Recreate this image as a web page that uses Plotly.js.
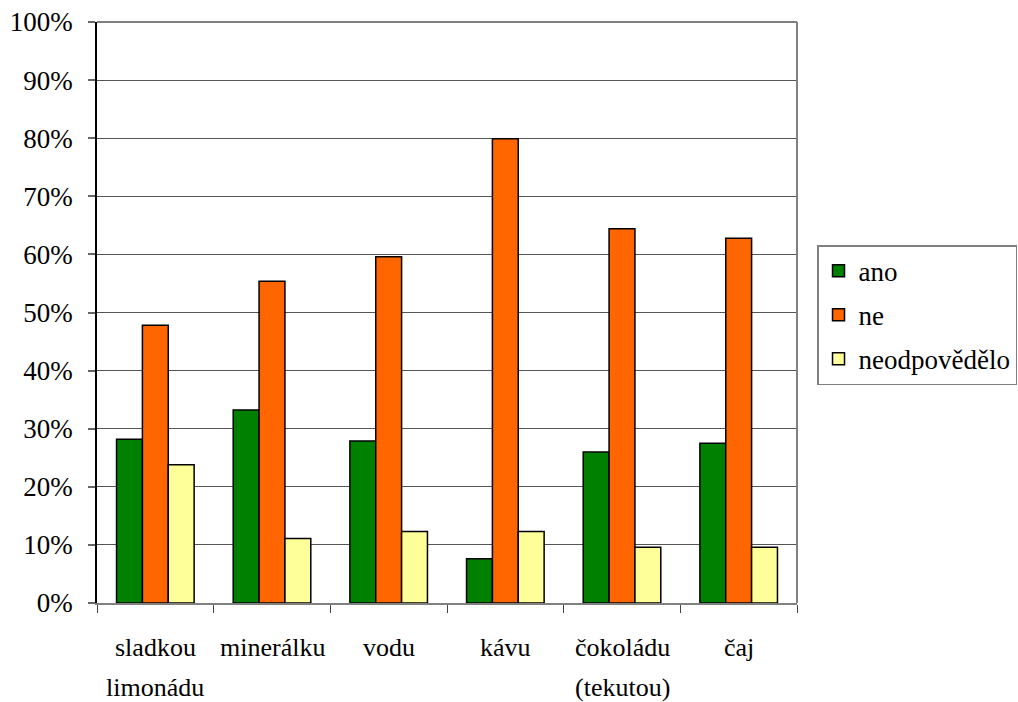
<!DOCTYPE html>
<html>
<head>
<meta charset="utf-8">
<script src="https://cdn.plot.ly/plotly-3.0.1.min.js"></script>
<style>
html,body{margin:0;padding:0;background:#fff;}
#chart{width:1018px;height:702px;}
#chart text{font-family:'Liberation Serif', serif !important;}
</style>
</head>
<body>
<div id="chart"></div>
<script>
const categories = ['sladkou limonádu', 'minerálku', 'vodu', 'kávu', 'čokoládu (tekutou)', 'čaj'];
const labelLine1 = ['sladkou', 'minerálku', 'vodu', 'kávu', 'čokoládu', 'čaj'];
const labelLine2 = ['limonádu', '', '', '', '(tekutou)', ''];
const seriesNames = ['ano', 'ne', 'neodpovědělo'];
const ano = [0.282, 0.332, 0.279, 0.076, 0.260, 0.275];
const ne = [0.478, 0.554, 0.596, 0.799, 0.644, 0.628];
const neodpovedelo = [0.238, 0.111, 0.123, 0.123, 0.096, 0.096];
const colors = ['#008000', '#FF6600', '#FFFF99'];
const values = [ano, ne, neodpovedelo];

const serifFamily = 'Liberation Serif, serif';

const traces = values.map((v, i) => ({
  type: 'bar',
  name: seriesNames[i],
  x: categories,
  y: v,
  legendgroup: 'g' + i,
  marker: {color: colors[i], line: {color: '#000', width: 1.5}},
  hoverinfo: 'x+y+name'
}));

const annotations = [];
categories.forEach((c, i) => {
  annotations.push({x: c, xref: 'x', y: -0.077, yref: 'paper', yanchor: 'middle', xanchor: 'center',
    text: labelLine1[i], showarrow: false, font: {family: serifFamily, size: 26, color: '#000'}});
  if (labelLine2[i]) {
    annotations.push({x: c, xref: 'x', y: -0.146, yref: 'paper', yanchor: 'middle', xanchor: 'center',
      text: labelLine2[i], showarrow: false, font: {family: serifFamily, size: 26, color: '#000'}});
  }
});

const layout = {
  width: 1018, height: 702,
  margin: {l: 97, r: 221, t: 22, b: 99, autoexpand: false},
  paper_bgcolor: '#fff', plot_bgcolor: '#fff',
  font: {family: serifFamily, size: 26, color: '#000'},
  barmode: 'group', bargap: 0.335, bargroupgap: 0,
  showlegend: true,
  legend: {x: 1.0286, xanchor: 'left', y: 0.616, yanchor: 'top',
    bordercolor: '#808080', borderwidth: 1.5, bgcolor: '#fff',
    font: {family: serifFamily, size: 27, color: '#000'}, tracegroupgap: 6, itemwidth: 30},
  xaxis: {type: 'category', showticklabels: false, showgrid: false, zeroline: false,
    showline: true, linecolor: '#808080', linewidth: 2,
    ticks: 'outside', tickson: 'boundaries', ticklen: 8, tickcolor: '#444', tickwidth: 1},
  yaxis: {range: [0, 1], dtick: 0.1, tickformat: '.0%', showgrid: true, gridcolor: '#555', gridwidth: 1,
    zeroline: false, showline: true, linecolor: '#000', linewidth: 1.5,
    ticks: 'outside', ticklen: 7, tickcolor: '#666', tickwidth: 1.5, ticklabelstandoff: 10,
    tickfont: {family: serifFamily, size: 27, color: '#000'}},
  annotations: annotations,
  shapes: [
    {type: 'line', xref: 'paper', yref: 'paper', x0: 1, x1: 1, y0: 0, y1: 1, line: {color: '#808080', width: 2}},
    {type: 'line', xref: 'paper', yref: 'paper', x0: 0, x1: 1, y0: 1, y1: 1, line: {color: '#808080', width: 2}}
  ]
};

Plotly.newPlot('chart', traces, layout, {displayModeBar: false});
</script>
</body>
</html>
